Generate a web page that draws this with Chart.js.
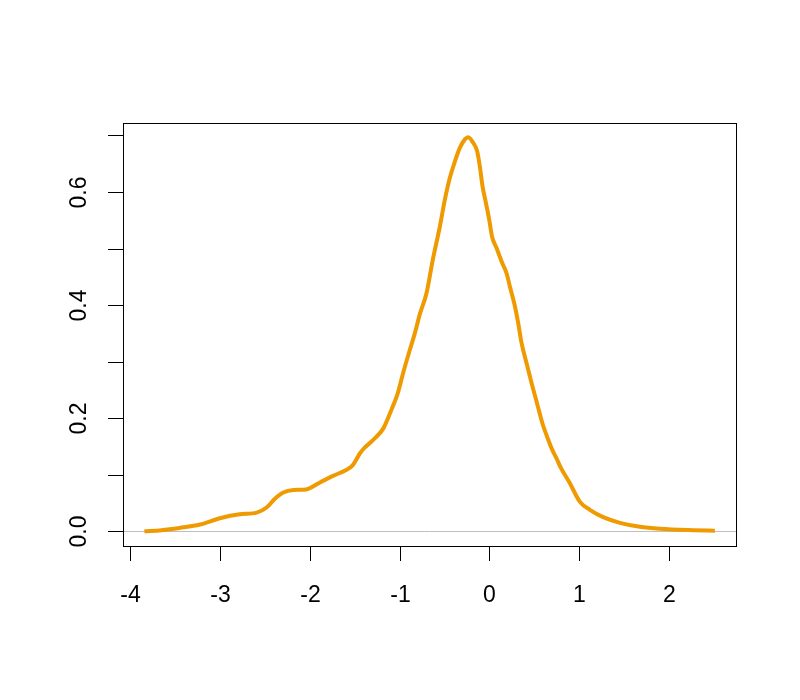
<!DOCTYPE html>
<html>
<head>
<meta charset="utf-8">
<script src="https://cdn.jsdelivr.net/npm/chart.js@4"></script>
<style>
  html, body { margin: 0; padding: 0; background: #fff; }
  #wrap { width: 800px; height: 700px; }
</style>
</head>
<body>
<div id="wrap"><canvas id="densityChart" width="800" height="700"></canvas></div>
<script>
// density curve
const xValues = [
  -3.84, -3.65, -3.45, -3.22, -3.0, -2.78, -2.59, -2.48, -2.39, -2.3,
  -2.18, -2.04, -1.89, -1.74, -1.6, -1.52, -1.44, -1.4, -1.29, -1.18,
  -1.09, -1.02, -0.96, -0.885, -0.83, -0.774, -0.7, -0.63, -0.551, -0.496,
  -0.44, -0.384, -0.329, -0.273, -0.236, -0.18, -0.136, -0.106, -0.076, -0.039,
  -0.002, 0.03, 0.08, 0.136, 0.19, 0.228, 0.284, 0.321, 0.358, 0.414,
  0.47, 0.526, 0.59, 0.655, 0.7, 0.75, 0.79, 0.896, 1.008, 1.119,
  1.267, 1.453, 1.676, 1.899, 2.27, 2.51
];
const yValues = [
  0.0, 0.002, 0.006, 0.012, 0.023, 0.03, 0.033, 0.042, 0.057, 0.068,
  0.073, 0.074, 0.086, 0.098, 0.108, 0.117, 0.138, 0.146, 0.162, 0.182,
  0.215, 0.244, 0.28, 0.321, 0.35, 0.384, 0.421, 0.48, 0.539, 0.586,
  0.625, 0.654, 0.678, 0.693, 0.697, 0.687, 0.672, 0.645, 0.61, 0.581,
  0.551, 0.521, 0.501, 0.477, 0.457, 0.433, 0.398, 0.368, 0.333, 0.297,
  0.262, 0.229, 0.191, 0.162, 0.144, 0.128, 0.114, 0.085, 0.052, 0.038,
  0.025, 0.015, 0.008, 0.0046, 0.002, 0.001
];
const xTicks = [-4, -3, -2, -1, 0, 1, 2];
const yTicks = [0, 0.1, 0.2, 0.3, 0.4, 0.5, 0.6, 0.7];
const yLabels = ['0.0', '', '0.2', '', '0.4', '', '0.6', ''];

const points = xValues.map((x, i) => ({ x: x, y: yValues[i] }));
const labelFont = '23px "Liberation Sans", Arial, sans-serif';

// base-graphics look: box, zero line, outward ticks
const rAxes = {
  id: 'rAxes',
  beforeDatasetsDraw(chart) {
    const ctx = chart.ctx;
    const area = chart.chartArea;
    const y0 = Math.round(chart.scales.y.getPixelForValue(0)) + 0.5;
    ctx.save();
    ctx.strokeStyle = '#bebebe';
    ctx.lineWidth = 1;
    ctx.beginPath();
    ctx.moveTo(area.left, y0);
    ctx.lineTo(area.right, y0);
    ctx.stroke();
    ctx.restore();
  },
  afterDraw(chart) {
    const ctx = chart.ctx;
    const area = chart.chartArea;
    const sx = chart.scales.x;
    const sy = chart.scales.y;
    ctx.save();
    ctx.strokeStyle = '#000';
    ctx.fillStyle = '#000';
    ctx.lineWidth = 1;
    ctx.strokeRect(Math.round(area.left) + 0.5, Math.round(area.top) + 0.5,
      Math.round(area.right - area.left), Math.round(area.bottom - area.top));

    ctx.font = labelFont;
    ctx.textAlign = 'center';
    ctx.textBaseline = 'alphabetic';
    xTicks.forEach((t) => {
      const px = Math.round(sx.getPixelForValue(t)) + 0.5;
      ctx.beginPath();
      ctx.moveTo(px, area.bottom);
      ctx.lineTo(px, area.bottom + 15);
      ctx.stroke();
      ctx.fillText(String(t), px, area.bottom + 56);
    });
    yTicks.forEach((t, i) => {
      const py = Math.round(sy.getPixelForValue(t)) + 0.5;
      ctx.beginPath();
      ctx.moveTo(area.left, py);
      ctx.lineTo(area.left - 15, py);
      ctx.stroke();
      if (yLabels[i]) {
        ctx.save();
        ctx.translate(area.left - 37, py);
        ctx.rotate(-Math.PI / 2);
        ctx.fillText(yLabels[i], 0, 0);
        ctx.restore();
      }
    });
    ctx.restore();
  },
};

// eslint-disable-next-line no-undef
new Chart(document.getElementById('densityChart'), {
  type: 'scatter',
  data: {
    datasets: [
      {
        data: points,
        showLine: true,
        borderColor: '#EE9A00',
        borderWidth: 4,
        pointRadius: 0,
        cubicInterpolationMode: 'monotone',
        fill: false,
      },
    ],
  },
  options: {
    responsive: false,
    animation: false,
    layout: { padding: { left: 123, right: 64, top: 123, bottom: 154 } },
    plugins: { legend: { display: false }, tooltip: { enabled: false } },
    scales: {
      x: { type: 'linear', min: -4.078, max: 2.745, display: false },
      y: { type: 'linear', min: -0.026, max: 0.722, display: false },
    },
  },
  plugins: [rAxes],
});
</script>
</body>
</html>
